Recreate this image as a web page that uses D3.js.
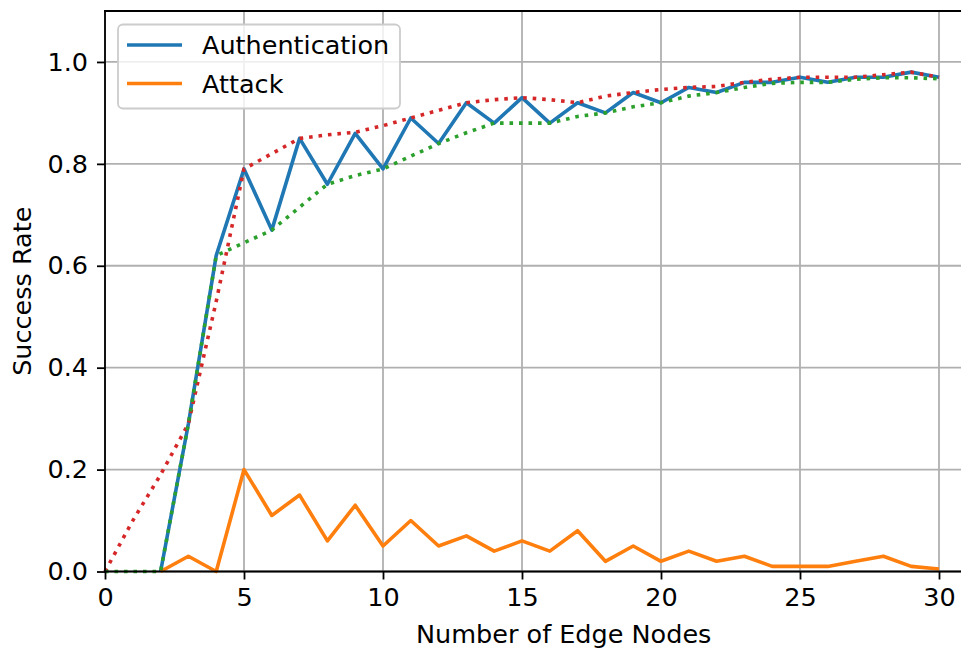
<!DOCTYPE html>
<html>
<head>
<meta charset="utf-8">
<script src="https://cdn.jsdelivr.net/npm/d3@7"></script>
<style>
  html, body { margin: 0; padding: 0; background: #fff; overflow: hidden; }
  svg { display: block; font-family: "DejaVu Sans", sans-serif; }
</style>
</head>
<body>
<div id="chart"></div>
<script>
// number of edge nodes (x)
const nodes = [0,1,2,3,4,5,6,7,8,9,10,11,12,13,14,15,16,17,18,19,20,21,22,23,24,25,26,27,28,29,30];
// success rates (null = not plotted)
const authentication = [null,null,0,0.29,0.62,0.79,0.67,0.85,0.76,0.86,0.79,0.89,0.84,0.92,0.88,0.93,0.88,0.92,0.90,0.94,0.92,0.95,0.94,0.96,0.96,0.97,0.96,0.97,0.97,0.98,0.97];
const attack = [null,null,0,0.03,0,0.20,0.11,0.15,0.06,0.13,0.05,0.10,0.05,0.07,0.04,0.06,0.04,0.08,0.02,0.05,0.02,0.04,0.02,0.03,0.01,0.01,0.01,0.02,0.03,0.01,0.005];
// dotted envelopes
const upperBound = [0,0.1,0.19,0.29,0.53,0.79,0.82,0.85,0.857,0.862,0.875,0.89,0.905,0.92,0.926,0.93,0.926,0.92,0.933,0.94,0.946,0.95,0.952,0.96,0.966,0.97,0.97,0.97,0.975,0.98,0.97];
const lowerBound = [0,0,0,0.29,0.62,0.645,0.67,0.715,0.76,0.777,0.79,0.815,0.84,0.861,0.88,0.88,0.88,0.893,0.90,0.912,0.92,0.933,0.94,0.95,0.958,0.96,0.96,0.966,0.969,0.969,0.967];

const xTicks = [0,5,10,15,20,25,30];
const yTicks = [0,0.2,0.4,0.6,0.8,1.0];
const legendItems = [
  {name: 'Authentication', color: '#1f77b4'},
  {name: 'Attack', color: '#ff7f0e'}
];

const width = 961, height = 653;
const margin = {top: 11, left: 105, bottom: 571.5, right: 1022.4};
const fontSize = 25.5;

const svg = d3.select('#chart').append('svg').attr('width', width).attr('height', height);

const x = d3.scaleLinear().domain([0, 33]).range([margin.left, margin.right]);
const y = d3.scaleLinear().domain([0, 1.1]).range([margin.bottom, margin.top]);

// grid
const grid = svg.append('g').attr('stroke', '#b0b0b0').attr('stroke-width', 1.8);
grid.selectAll('line.gx').data(xTicks).join('line')
  .attr('x1', d => x(d)).attr('x2', d => x(d))
  .attr('y1', margin.top).attr('y2', margin.bottom);
grid.selectAll('line.gy').data(yTicks).join('line')
  .attr('x1', margin.left).attr('x2', margin.right)
  .attr('y1', d => y(d)).attr('y2', d => y(d));

function series(vals) {
  return nodes.map((n, i) => ({x: n, y: vals[i]}));
}
const line = d3.line().defined(d => d.y !== null).x(d => x(d.x)).y(d => y(d.y));

svg.append('path').datum(series(authentication)).attr('d', line)
  .attr('fill', 'none').attr('stroke', '#1f77b4').attr('stroke-width', 3.6).attr('stroke-linejoin', 'round');
svg.append('path').datum(series(attack)).attr('d', line)
  .attr('fill', 'none').attr('stroke', '#ff7f0e').attr('stroke-width', 3.6).attr('stroke-linejoin', 'round');
svg.append('path').datum(series(upperBound)).attr('d', line)
  .attr('fill', 'none').attr('stroke', '#d62728').attr('stroke-width', 3.6).attr('stroke-dasharray', '3.6,5.9');
svg.append('path').datum(series(lowerBound)).attr('d', line)
  .attr('fill', 'none').attr('stroke', '#2ca02c').attr('stroke-width', 3.6).attr('stroke-dasharray', '3.6,5.9');

// axes
const xAxis = d3.axisBottom(x).tickValues(xTicks).tickSize(8).tickPadding(8).tickFormat(d3.format('d'));
const gx = svg.append('g').attr('transform', `translate(0,${margin.bottom})`).call(xAxis);
const yAxis = d3.axisLeft(y).tickValues(yTicks).tickSize(8).tickPadding(9).tickFormat(d3.format('.1f'));
const gy = svg.append('g').attr('transform', `translate(${margin.left},0)`).call(yAxis);
[gx, gy].forEach(g => {
  g.select('.domain').remove();
  g.selectAll('.tick line').attr('stroke', '#000').attr('stroke-width', 1.8);
  g.selectAll('.tick text').attr('font-size', fontSize).attr('font-family', '"DejaVu Sans", sans-serif').attr('fill', '#000');
});

// spines
const spines = svg.append('g').attr('stroke', '#000').attr('stroke-width', 1.8).attr('stroke-linecap', 'square');
spines.append('line').attr('x1', margin.left).attr('x2', margin.left).attr('y1', margin.top).attr('y2', margin.bottom);
spines.append('line').attr('x1', margin.left).attr('x2', margin.right).attr('y1', margin.bottom).attr('y2', margin.bottom);
spines.append('line').attr('x1', margin.left).attr('x2', margin.right).attr('y1', margin.top).attr('y2', margin.top);

// axis labels
svg.append('text').attr('x', (margin.left + margin.right) / 2).attr('y', 643)
  .attr('text-anchor', 'middle').attr('font-size', fontSize).text('Number of Edge Nodes');
svg.append('text').attr('transform', `translate(31,${(margin.top + margin.bottom) / 2}) rotate(-90)`)
  .attr('text-anchor', 'middle').attr('font-size', fontSize).text('Success Rate');

// legend
const lg = svg.append('g');
lg.append('rect').attr('x', 118).attr('y', 24.5).attr('width', 282).attr('height', 84).attr('rx', 5)
  .attr('fill', '#fff').attr('fill-opacity', 0.8).attr('stroke', '#cccccc').attr('stroke-width', 1.8);
legendItems.forEach((it, i) => {
  const cy = 45 + i * 38.5;
  lg.append('line').attr('x1', 127).attr('x2', 182).attr('y1', cy).attr('y2', cy)
    .attr('stroke', it.color).attr('stroke-width', 3.6);
  lg.append('text').attr('x', 202).attr('y', cy + 9.3).attr('font-size', fontSize).text(it.name);
});
</script>
</body>
</html>
